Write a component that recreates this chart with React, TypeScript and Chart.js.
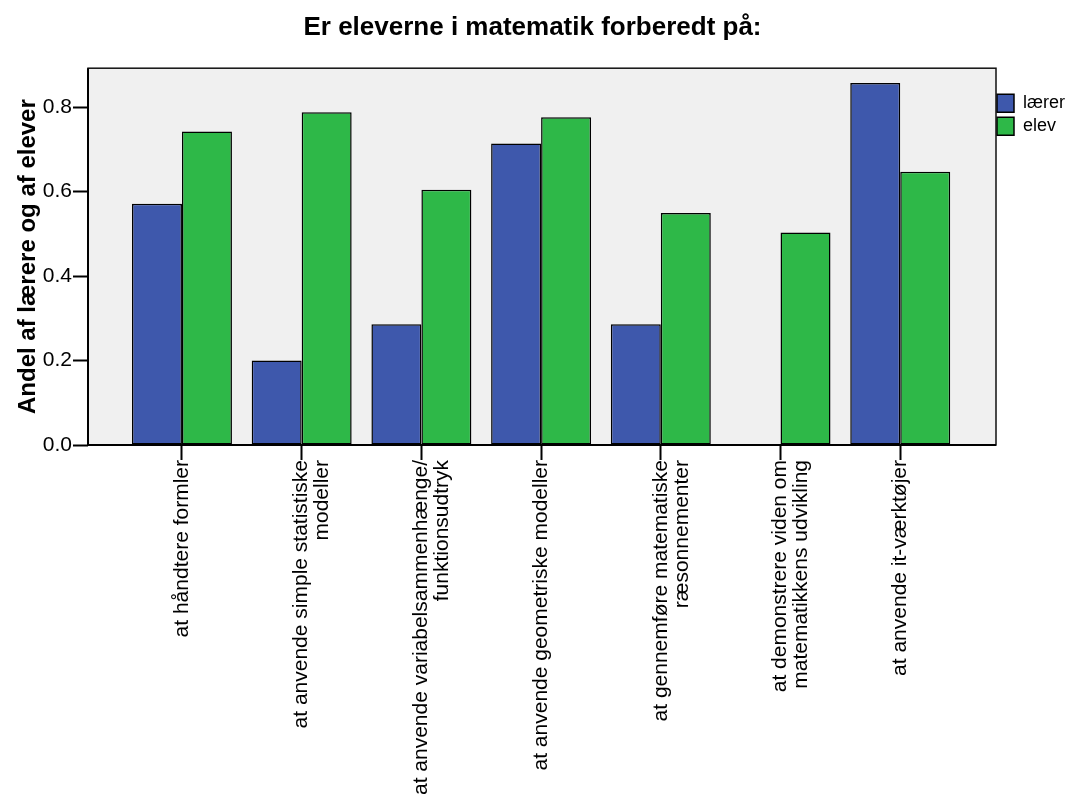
import React, { useEffect, useRef } from "react";
import { Chart, registerables } from "chart.js";

Chart.register(...registerables);

const chartTitle = "Er eleverne i matematik forberedt på:";
const yAxisTitle = "Andel af lærere og af elever";
const seriesNames = ["lærer", "elev"];
const categories: string[][] = [
  ["at håndtere formler"],
  ["at anvende simple statistiske", "modeller"],
  ["at anvende variabelsammenhænge/", "funktionsudtryk"],
  ["at anvende geometriske modeller"],
  ["at gennemføre matematiske", "ræsonnementer"],
  ["at demonstrere viden om", "matematikkens udvikling"],
  ["at anvende it-værktøjer"],
];
const laererValues = [0.571, 0.2, 0.286, 0.714, 0.286, 0, 0.857];
const elevValues = [0.742, 0.788, 0.604, 0.776, 0.549, 0.503, 0.647];
const yTickValues = [0, 0.2, 0.4, 0.6, 0.8];
const yMax = 0.892;
const xMin = -0.785;
const xMax = 6.8;

const FONT = "'Liberation Sans', Arial, sans-serif";
const BLUE = "#3E58AC";
const GREEN = "#2EB848";
const PLOT_BG = "#F0F0F0";

const framePlugin = {
  id: "frame",
  beforeDraw(chart: any) {
    const { ctx, chartArea } = chart;
    if (!chartArea) return;
    ctx.save();
    ctx.fillStyle = PLOT_BG;
    ctx.fillRect(chartArea.left, chartArea.top, chartArea.right - chartArea.left, chartArea.bottom - chartArea.top);
    ctx.restore();
  },
  afterDatasetsDraw(chart: any) {
    const { ctx, chartArea } = chart;
    const { left, right, top, bottom } = chartArea;
    ctx.save();
    ctx.strokeStyle = "#111";
    ctx.lineWidth = 1.5;
    ctx.strokeRect(left, top, right - left, bottom - top);
    ctx.strokeStyle = "#000";
    ctx.lineWidth = 2;
    ctx.beginPath();
    ctx.moveTo(left, top);
    ctx.lineTo(left, bottom);
    ctx.lineTo(right, bottom);
    ctx.stroke();
    ctx.restore();
  },
};

const legendShiftPlugin = {
  id: "legendShift",
  afterLayout(chart: any) {
    const lg = chart.legend;
    if (!lg) return;
    const pad = lg.options.labels.padding;
    lg.left = chart.chartArea.right + 1 - pad;
  },
};

export default function App() {
  const canvasRef = useRef<HTMLCanvasElement | null>(null);

  useEffect(() => {
    if (!canvasRef.current) return;
    Chart.defaults.font.family = FONT;
    const chart = new Chart(canvasRef.current, {
      type: "bar",
      data: {
        datasets: [
          {
            label: seriesNames[0],
            data: laererValues.map((y, i) => ({ x: i, y })),
            backgroundColor: BLUE,
            borderColor: "#000",
            borderWidth: 1.5,
            borderSkipped: false,
            categoryPercentage: 0.835,
            barPercentage: 1,
          },
          {
            label: seriesNames[1],
            data: elevValues.map((y, i) => ({ x: i, y })),
            backgroundColor: GREEN,
            borderColor: "#000",
            borderWidth: 1.5,
            borderSkipped: false,
            categoryPercentage: 0.835,
            barPercentage: 1,
          },
        ],
      } as any,
      options: {
        animation: false,
        responsive: true,
        maintainAspectRatio: false,
        layout: { padding: 0 },
        plugins: {
          title: {
            display: true,
            text: chartTitle,
            color: "#000",
            font: { size: 26, weight: "bold", family: FONT },
            padding: { top: 12, bottom: 25 },
          },
          legend: {
            display: true,
            position: "right",
            align: "start",
            fullSize: false,
            maxWidth: 69,
            title: { display: true, text: " ", font: { size: 10 }, padding: { top: 9, bottom: 0 } },
            labels: {
              boxWidth: 17,
              boxHeight: 18,
              padding: 5,
              color: "#000",
              font: { size: 18, family: FONT },
            },
          },
          tooltip: { enabled: false },
        },
        scales: {
          x: {
            type: "linear",
            min: xMin,
            max: xMax,
            offset: false,
            afterBuildTicks: (s: any) => {
              s.ticks = categories.map((_, i) => ({ value: i }));
            },
            afterFit: (s: any) => {
              s.height = 354;
            },
            ticks: {
              autoSkip: false,
              minRotation: 90,
              maxRotation: 90,
              padding: 0,
              color: "#000",
              font: { size: 21, family: FONT, lineHeight: 1.0 },
              callback: (v: any) => categories[Math.round(Number(v))] ?? "",
            },
            grid: {
              offset: false,
              drawOnChartArea: false,
              tickLength: 15,
              tickWidth: 2,
              color: "#000",
            },
            border: { display: false },
          },
          y: {
            min: 0,
            max: yMax,
            afterBuildTicks: (s: any) => {
              s.ticks = yTickValues.map((v) => ({ value: v }));
            },
            afterFit: (s: any) => {
              s.width = 88;
            },
            ticks: {
              padding: 1,
              color: "#000",
              font: { size: 21, family: FONT },
              callback: (v: any) => Number(v).toFixed(1),
            },
            grid: {
              drawOnChartArea: false,
              tickLength: 15,
              tickWidth: 2,
              color: "#000",
            },
            border: { display: false },
            title: {
              display: true,
              text: yAxisTitle,
              color: "#000",
              font: { size: 24, weight: "bold", family: FONT },
              padding: { top: 14, bottom: 0 },
            },
          },
        },
      } as any,
      plugins: [framePlugin, legendShiftPlugin],
    });
    return () => chart.destroy();
  }, []);

  return (
    <div style={{ position: "absolute", left: 0, top: 0, width: 1065, height: 799 }}>
      <canvas ref={canvasRef} />
    </div>
  );
}
